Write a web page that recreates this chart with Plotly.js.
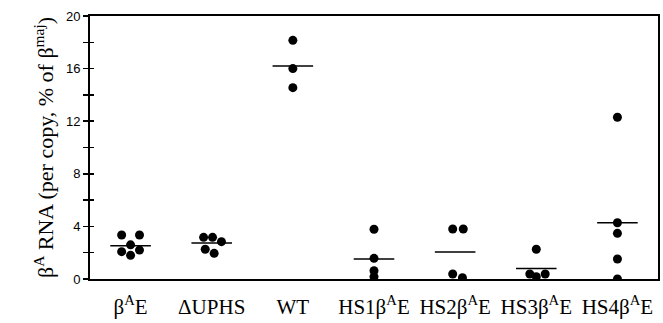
<!DOCTYPE html>
<html>
<head>
<meta charset="utf-8">
<script src="https://cdn.plot.ly/plotly-3.0.1.min.js"></script>
<style>html,body{margin:0;padding:0;background:#fff;}#chart{width:663px;height:323px;}</style>
</head>
<body>
<div id="chart"></div>
<script>
// Category tick labels
var categories = ["β<sup>A</sup>E", "ΔUPHS", "WT", "HS1β<sup>A</sup>E", "HS2β<sup>A</sup>E", "HS3β<sup>A</sup>E", "HS4β<sup>A</sup>E"];
// Individual values per group (% of beta-maj, per copy)
var betaAE  = [3.35, 3.35, 2.6, 2.08, 2.2, 1.8];
var dUPHS   = [3.17, 3.17, 2.84, 2.26, 1.95];
var WT      = [18.15, 16.0, 14.55];
var HS1     = [3.78, 1.57, 0.63, 0.18];
var HS2     = [3.8, 3.8, 0.38, 0.1];
var HS3     = [2.26, 0.38, 0.18, 0.38];
var HS4     = [12.3, 4.28, 3.47, 1.52, 0.0];
// Horizontal offsets of dots within each group (avoid overlap)
var betaAEJitter = [-0.11, 0.11, 0, -0.11, 0.11, 0];
var dUPHSJitter  = [-0.10, 0.01, 0.12, -0.08, 0.03];
var WTJitter     = [0, 0, 0];
var HS1Jitter    = [0, 0, 0, 0];
var HS2Jitter    = [-0.03, 0.10, -0.03, 0.09];
var HS3Jitter    = [0, -0.08, 0, 0.11];
var HS4Jitter    = [0, 0, 0, 0, 0];
// Group means (horizontal bars)
var means = [2.53, 2.74, 16.2, 1.52, 2.05, 0.79, 4.28];

var groups = [betaAE, dUPHS, WT, HS1, HS2, HS3, HS4];
var jitters = [betaAEJitter, dUPHSJitter, WTJitter, HS1Jitter, HS2Jitter, HS3Jitter, HS4Jitter];

var px = [], py = [];
groups.forEach(function(g, i){
  g.forEach(function(v, j){ px.push(i + jitters[i][j]); py.push(v); });
});
var traces = [];
means.forEach(function(m, i){
  traces.push({x:[i-0.25, i+0.25], y:[m, m], mode:'lines', line:{color:'#000', width:1.5}, hoverinfo:'skip', showlegend:false});
});
traces.push({x:px, y:py, mode:'markers', marker:{color:'#000', size:9}, showlegend:false});
// invisible trace on second y axis to show inside ticks
traces.push({x:[0], y:[0], yaxis:'y2', mode:'markers', marker:{opacity:0}, showlegend:false, hoverinfo:'skip'});

var serif = 'Liberation Serif, Times New Roman, serif';
var layout = {
  width:663, height:323,
  margin:{l:90, r:5, t:16, b:44},
  paper_bgcolor:'#fff', plot_bgcolor:'#fff',
  font:{family:'Liberation Sans, Arial, sans-serif', color:'#000'},
  xaxis:{
    range:[-0.5, 6.5], tickmode:'array', tickvals:[0,1,2,3,4,5,6], ticktext:categories,
    showgrid:false, zeroline:false, showline:true, linecolor:'#000', linewidth:2, mirror:true,
    ticks:'', ticklabelstandoff:8, tickfont:{family:serif, size:21, color:'#000'}
  },
  yaxis:{
    range:[0, 20], tickvals:[0,4,8,12,16,20], showgrid:false, zeroline:false,
    showline:true, linecolor:'#000', linewidth:2, mirror:true,
    ticks:'outside', ticklen:5, tickwidth:1.5, tickcolor:'#000',
    minor:{tickvals:[2,6,10,14,18], ticks:'outside', ticklen:5, tickwidth:1.5, tickcolor:'#000'},
    tickfont:{size:13, color:'#000'},
    title:{text:'β<sup>A</sup> RNA (per copy, % of β<sup>maj</sup>)', font:{family:serif, size:22, color:'#000'}, standoff:6}
  },
  yaxis2:{
    overlaying:'y', side:'left', range:[0,20], tickvals:[0,4,8,12,16,20], showticklabels:false,
    showgrid:false, zeroline:false, ticks:'inside', ticklen:4, tickwidth:1.5, tickcolor:'#000',
    minor:{tickvals:[2,6,10,14,18], ticks:'inside', ticklen:4, tickwidth:1.5, tickcolor:'#000'}
  }
};
Plotly.newPlot('chart', traces, layout, {displayModeBar:false, staticPlot:true});
</script>
</body>
</html>
